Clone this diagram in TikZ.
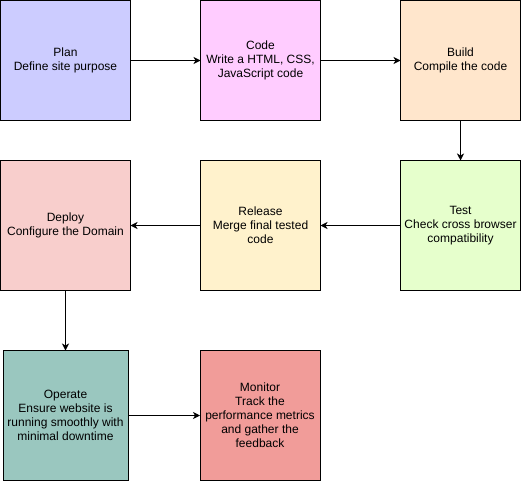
\documentclass[tikz,border=0pt]{standalone}
\usepackage{fontspec}
\setmainfont{Liberation Sans}
\usetikzlibrary{arrows.meta, positioning}
\definecolor{planblue}{HTML}{CCCCFF}
\definecolor{codepink}{HTML}{FFCCFF}
\definecolor{buildorange}{HTML}{FFE6CC}
\definecolor{testgreen}{HTML}{E6FFCC}
\definecolor{releaseyellow}{HTML}{FFF2CC}
\definecolor{deployrose}{HTML}{F8CECC}
\definecolor{operateteal}{HTML}{9AC7BF}
\definecolor{monitorred}{HTML}{F19C99}
\tikzstyle{phase} = [rectangle, draw=black, line width=1pt, minimum width=120pt,
                     minimum height=130pt, align=center, inner sep=2pt, outer sep=0pt,
                     font=\fontsize{12}{14}\selectfont]
\tikzstyle{arrow} = [line width=1pt, -{Stealth[length=7pt, width=7pt, inset=2pt]}]

\begin{document}
\begin{tikzpicture}
  \useasboundingbox (0pt,0pt) rectangle (521pt,-481pt);
  \node (plan)    [phase, fill=planblue, minimum width=130pt, minimum height=120pt] at (65.5pt,-60.5pt) {Plan\\Define site purpose};
  \node (code)    [phase, fill=codepink, minimum height=120pt, right=70pt of plan] {Code\\Write a HTML, CSS,\\JavaScript code};
  \node (build)   [phase, fill=buildorange, minimum height=120pt, right=80pt of code] {Build\\Compile the code};
  \node (test)    [phase, fill=testgreen, below=40pt of build] {Test\\Check cross browser\\compatibility};
  \node (release) [phase, fill=releaseyellow, left=80pt of test] {Release\\Merge final tested\\code};
  \node (deploy)  [phase, fill=deployrose, minimum width=130pt, left=70pt of release] {Deploy\\Configure the Domain};
  \node (operate) [phase, fill=operateteal, minimum width=125pt, below=60pt of deploy] {Operate\\Ensure website is\\running smoothly with\\minimal downtime};
  \node (monitor) [phase, fill=monitorred, right=72pt of operate] {Monitor\\Track the\\performance metrics\\and gather the\\feedback};

  \draw [arrow] (plan) -- (code);
  \draw [arrow] (code) -- (build);
  \draw [arrow] (build) -- (test);
  \draw [arrow] (test) -- (release);
  \draw [arrow] (release) -- (deploy);
  \draw [arrow] (deploy) -- (operate);
  \draw [arrow] (operate) -- (monitor);
\end{tikzpicture}
\end{document}
